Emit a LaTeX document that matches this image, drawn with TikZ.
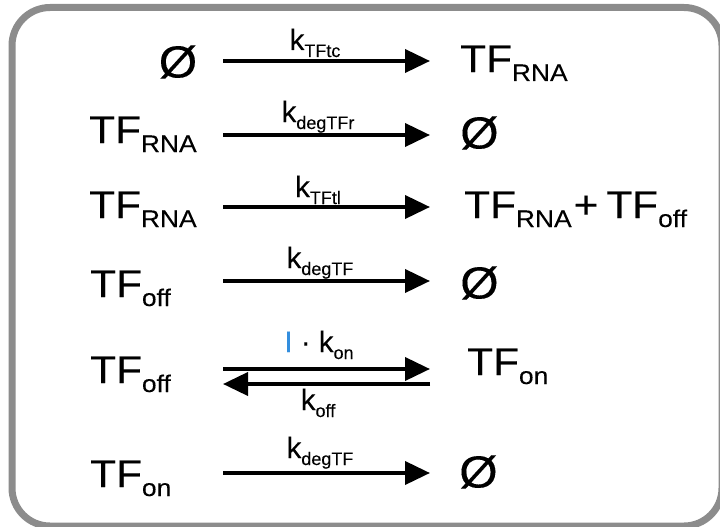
\documentclass[tikz,border=0pt]{standalone}
\usepackage{fontspec}
\setmainfont{Liberation Sans}
\newfontfamily\bigf[FakeStretch=1.1,FakeBold=0.15]{Liberation Sans}
\newfontfamily\labf[FakeBold=0.1]{Liberation Sans}
\usetikzlibrary{arrows.meta}
\definecolor{framegray}{HTML}{8C8C8C}
\definecolor{iblue}{HTML}{338EDE}
\newcommand{\bsub}[1]{\raisebox{-9pt}{\fontsize{24}{25}\selectfont #1}}
\newcommand{\lsub}[1]{\raisebox{-7pt}{\fontsize{18}{19}\selectfont #1}}
\newcommand{\nullset}{{\fontsize{45}{46}\selectfont Ø}}
\begin{document}
\begin{tikzpicture}[x=1pt,y=-1pt,
  species/.style={font=\bigf\fontsize{38.5}{40}\selectfont, inner sep=0pt},
  rate/.style={font=\labf\fontsize{29.5}{31}\selectfont, inner sep=0pt, anchor=base},
  rxn/.style={line width=3.8pt, -{Triangle[length=25pt,width=23pt]}}]
\useasboundingbox (0,0) rectangle (720,527);
\begin{scope}
\clip (0,0) rectangle (720,527);
\draw[framegray, line width=7pt, rounded corners=38pt, fill=white] (12,7.5) rectangle (722,526);
\end{scope}

% row 1
\node[species, anchor=center] (l1) at (178,62) {\nullset};
\node[species, anchor=base west] (r1) at (460,72) {TF\bsub{RNA}};
\coordinate (s1) at (223,61); \coordinate (t1) at (430,61);
\draw[rxn] (s1) -- (t1);
\node[rate] (k1) at (315,50) {k\lsub{TFtc}};

% row 2
\node[species, anchor=base west] (l2) at (89,143) {TF\bsub{RNA}};
\node[species, anchor=west] (r2) at (460,133) {\nullset};
\coordinate (s2) at (223,135); \coordinate (t2) at (430,135);
\draw[rxn] (s2) -- (t2);
\node[rate] (k2) at (318,122) {k\lsub{degTFr}};

% row 3
\node[species, anchor=base west] (l3) at (89,218) {TF\bsub{RNA}};
\node[species, anchor=base west] (r3) at (464,218) {TF\bsub{RNA}\hspace{2pt}+\hspace{8pt}TF\bsub{off}};
\coordinate (s3) at (223,207); \coordinate (t3) at (430,207);
\draw[rxn] (s3) -- (t3);
\node[rate] (k3) at (318,197) {k\lsub{TFtl}};

% row 4
\node[species, anchor=base west] (l4) at (90,297) {TF\bsub{off}};
\node[species, anchor=west] (r4) at (460,283) {\nullset};
\coordinate (s4) at (223,281); \coordinate (t4) at (430,281);
\draw[rxn] (s4) -- (t4);
\node[rate] (k4) at (320,268) {k\lsub{degTF}};

% row 5
\node[species, anchor=base west] (l5) at (90,383) {TF\bsub{off}};
\node[species, anchor=base west] (r5) at (467,375) {TF\bsub{on}};
\coordinate (s5) at (223,369); \coordinate (t5) at (430,369);
\coordinate (s5b) at (430,384); \coordinate (t5b) at (223,384);
\draw[rxn] (s5) -- (t5);
\draw[rxn] (s5b) -- (t5b);
\node[rate] (k5) at (319,352) {{\color{iblue}I} · k\lsub{on}};
\node[rate] (k5b) at (318,410) {k\lsub{off}};

% row 6
\node[species, anchor=base west] (l6) at (90,487) {TF\bsub{on}};
\node[species, anchor=west] (r6) at (459,472) {\nullset};
\coordinate (s6) at (223,473); \coordinate (t6) at (430,473);
\draw[rxn] (s6) -- (t6);
\node[rate] (k6) at (320,458) {k\lsub{degTF}};
\end{tikzpicture}
\end{document}
